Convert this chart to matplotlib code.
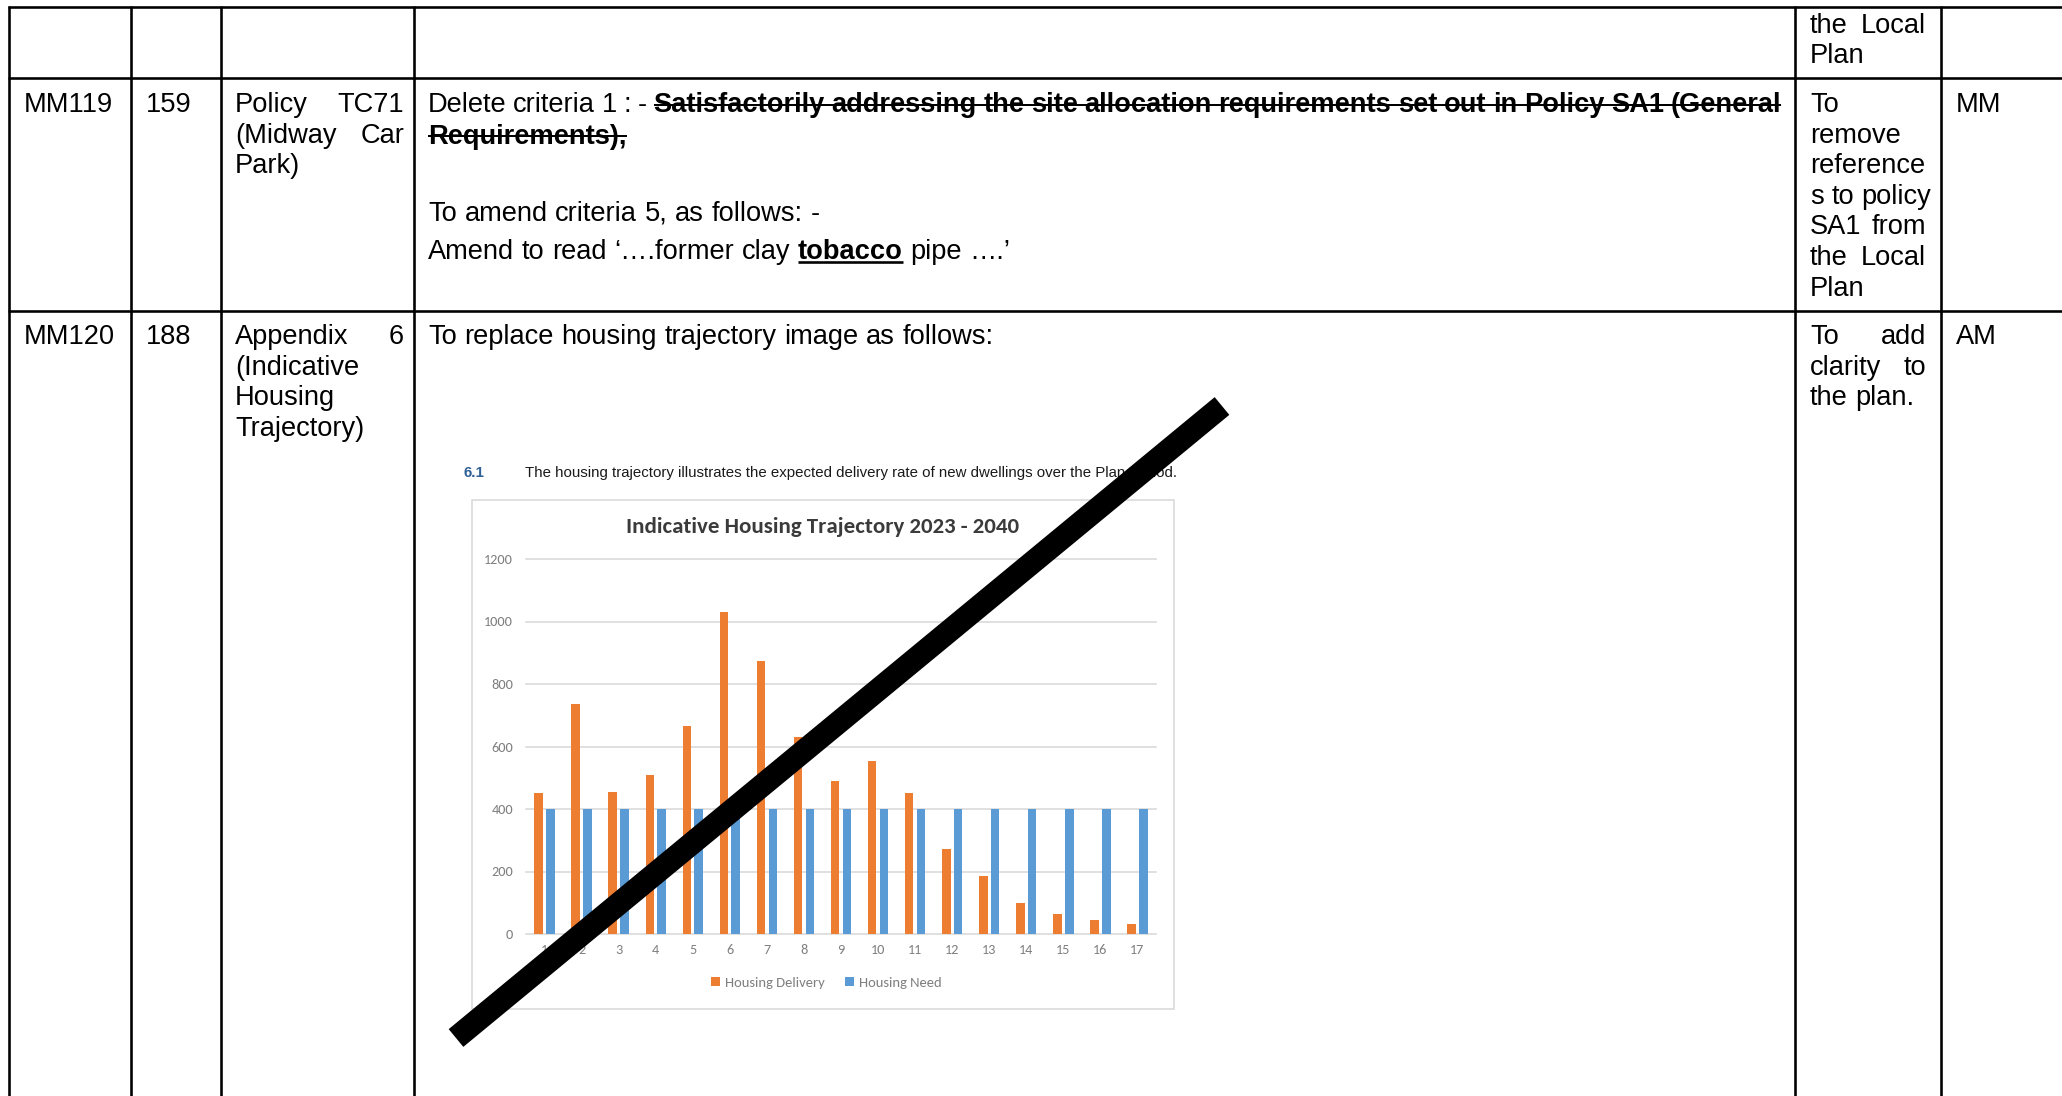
import matplotlib
matplotlib.use("Agg")
import matplotlib.pyplot as plt
import numpy as np
from matplotlib import font_manager as fm
from matplotlib.patches import Rectangle

W, H, DPI = 2062, 1096, 100

# ---------------- data ----------------
periods = [str(i) for i in range(1, 18)]
housing_delivery = [450, 735, 455, 510, 666, 1030, 875, 630, 490, 553, 451, 272, 187, 98, 63, 44, 31]
housing_need = [400, 400, 400, 400, 400, 400, 400, 400, 400, 400, 400, 400, 400, 400, 400, 400, 400]
y_ticks = [0, 200, 400, 600, 800, 1000, 1200]
series_names = ["Housing Delivery", "Housing Need"]
chart_title = "Indicative Housing Trajectory 2023 - 2040"
intro_num = "6.1"
intro_text = "The housing trajectory illustrates the expected delivery rate of new dwellings over the Plan Period."

ORANGE = "#ED7D31"
BLUE = "#5B9BD5"

installed = {f.name for f in fm.fontManager.ttflist}


def pick(*names):
    for n in names:
        if n in installed:
            return n
    return "DejaVu Sans"


BODY = pick("Liberation Sans", "Arimo", "DejaVu Sans")
CAL = pick("Carlito", "Lato", "Open Sans")
NARROW = pick("Liberation Sans Narrow", "Liberation Sans")

fig = plt.figure(figsize=(W / DPI, H / DPI), dpi=DPI)
ax = fig.add_axes([0, 0, 1, 1])
ax.set_xlim(0, W)
ax.set_ylim(H, 0)
ax.axis('off')
R = fig.canvas.get_renderer()


def px(p):
    return p * 72.0 / DPI


def tw(s, **kw):
    t = ax.text(0, 0, s, **kw)
    w = t.get_window_extent(R).width
    t.remove()
    return w


# ---------------- table grid ----------------
col_x = [9, 131, 221, 414, 1795, 1941]
row_y = [7, 78, 311]
LW = px(2.6)
for y in row_y:
    ax.plot([col_x[0] - 1, W], [y, y], color='black', lw=LW, solid_capstyle='butt')
for x in col_x:
    ax.plot([x, x], [row_y[0] - 1, H], color='black', lw=LW, solid_capstyle='butt')

FS = 19.6
EM = FS * DPI / 72.0
SP = tw("a a", family=BODY, fontsize=FS) - tw("aa", family=BODY, fontsize=FS)


def line(words, x0, y, x1=None):
    ws = [tw(w, family=BODY, fontsize=FS, fontweight=b) for w, b in words]
    if x1 is not None and len(words) > 1:
        gap = (x1 - x0 - sum(ws)) / (len(words) - 1)
    else:
        gap = SP
    x = x0
    spans = []
    for (w, b), wd in zip(words, ws):
        ax.text(x, y, w, family=BODY, fontsize=FS, fontweight=b,
                ha='left', va='baseline', color='black')
        spans.append((x, x + wd))
        x += wd + gap
    return spans


def plain(s, x0, y):
    return line([(w, 'normal') for w in s.split()], x0, y)


def just(s, x0, y, x1):
    return line([(w, 'normal') for w in s.split()], x0, y, x1)


# column text positions
CA, CB, CC, CD, CE, CF = 24, 146, 235, 428, 1810, 1956
CC_R, CD_R, CE_R = 404, 1781, 1926
LS = 30.6

# row 0 (continuation)
just("the Local", CE, 33, CE_R)
plain("Plan", CE, 63)

# row MM119
b1 = 112
plain("MM119", CA, b1)
plain("159", CB, b1)
just("Policy TC71", CC, b1, CC_R)
just("(Midway Car", CC, b1 + LS, CC_R)
plain("Park)", CC, b1 + 2 * LS)

words = [(w, 'normal') for w in "Delete criteria 1 : -".split()]
struck = "Satisfactorily addressing the site allocation requirements set out in Policy SA1 (General".split()
words += [(w, 'bold') for w in struck]
sp = line(words, CD, b1, CD_R)
n0 = 5
ax.plot([sp[n0][0], sp[-1][1]], [b1 - 0.27 * EM] * 2, color='black', lw=px(2), solid_capstyle='butt')
sp2 = line([("Requirements),", 'bold')], CD, b1 + 31.5)
ax.plot([sp2[0][0], sp2[0][1]], [b1 + 31.5 - 0.27 * EM] * 2, color='black', lw=px(2), solid_capstyle='butt')
plain("To amend criteria 5, as follows: -", CD, 221)
sp3 = line([("Amend", 'normal'), ("to", 'normal'), ("read", 'normal'), ("\u2018\u2026.former", 'normal'),
            ("clay", 'normal'), ("tobacco", 'bold'), ("pipe", 'normal'), ("\u2026.\u2019", 'normal')], CD, 259)
ax.plot([sp3[5][0], sp3[5][1]], [259 + 0.12 * EM] * 2, color='black', lw=px(2.6), solid_capstyle='butt')

e_lines = ["To", "remove", "reference", "s to policy", "SA1 from", "the Local", "Plan"]
for i, s in enumerate(e_lines):
    y = b1 + LS * i
    if s in ("SA1 from", "the Local"):
        just(s, CE, y, CE_R)
    else:
        plain(s, CE, y)
plain("MM", CF, b1)

# row MM120
b2 = 344
plain("MM120", CA, b2)
plain("188", CB, b2)
just("Appendix 6", CC, b2, CC_R)
plain("(Indicative", CC, b2 + LS)
plain("Housing", CC, b2 + 2 * LS)
plain("Trajectory)", CC, b2 + 3 * LS)
plain("To replace housing trajectory image as follows:", CD, b2)
just("To add", CE, b2, CE_R)
just("clarity to", CE, b2 + LS, CE_R)
plain("the plan.", CE, b2 + 2 * LS)
plain("AM", CF, b2)


# ---------------- embedded chart image ----------------
def fit(x, y, s, width, size0=10.0, **kw):
    w = tw(s, fontsize=size0, **kw)
    return ax.text(x, y, s, fontsize=size0 * width / w, **kw)


fit(464, 473, intro_num, 21, family=BODY, fontweight='bold', color='#2E5F95', ha='left', va='center')
fit(525, 473, intro_text, 654, family=NARROW, color='#1A1A1A', ha='left', va='center')

ax.add_patch(Rectangle((472, 500), 702, 509, fill=False, ec='#D9D9D9', lw=px(1.6)))
fit(823, 527, chart_title, 392, family=CAL, fontweight='bold', color='#3B3B3B', ha='center', va='center')

ax2 = fig.add_axes([526 / W, 1 - 934 / H, 630 / W, 375 / H])
xs = np.arange(1, len(periods) + 1)
bd = ax2.bar(xs - 0.16, housing_delivery, 0.23, color=ORANGE, zorder=3, label=series_names[0])
bn = ax2.bar(xs + 0.16, housing_need, 0.23, color=BLUE, zorder=3, label=series_names[1])
ax2.set_xlim(0.5, len(periods) + 0.5)
ax2.set_ylim(0, 1200)
ax2.set_yticks(y_ticks)
ax2.set_xticks(xs, periods)
ax2.grid(axis='y', color='#D9D9D9', lw=px(1.6), zorder=0)
ax2.grid(axis='x', visible=False)
for gl in ax2.get_ygridlines():
    gl.set_clip_on(False)
for s in ax2.spines.values():
    s.set_visible(False)
ax2.patch.set_alpha(0)
ax2.tick_params(axis='y', length=0, labelsize=10.3, labelcolor='#7F7F7F', pad=px(13))
ax2.tick_params(axis='x', length=0, labelsize=10.3, labelcolor='#7F7F7F', pad=px(10))
for lbl in ax2.get_xticklabels() + ax2.get_yticklabels():
    lbl.set_family(CAL)

leg = ax2.legend(handles=[bd, bn], loc='center', bbox_to_anchor=(826, 983), bbox_transform=ax.transData,
                 ncol=2, frameon=False, prop={'family': CAL, 'size': 10.5}, labelcolor='#7F7F7F',
                 handlelength=0.6, handleheight=0.6, handletextpad=0.35, columnspacing=1.4,
                 borderpad=0, borderaxespad=0)

# ---------------- strike-through cross line ----------------
ax3 = fig.add_axes([0, 0, 1, 1], zorder=10)
ax3.set_xlim(0, W)
ax3.set_ylim(H, 0)
ax3.axis('off')
ax3.plot([456, 1222], [1038, 406], color='black', lw=px(23), solid_capstyle='butt')

fig.savefig("out.png", dpi=DPI, facecolor='white')
